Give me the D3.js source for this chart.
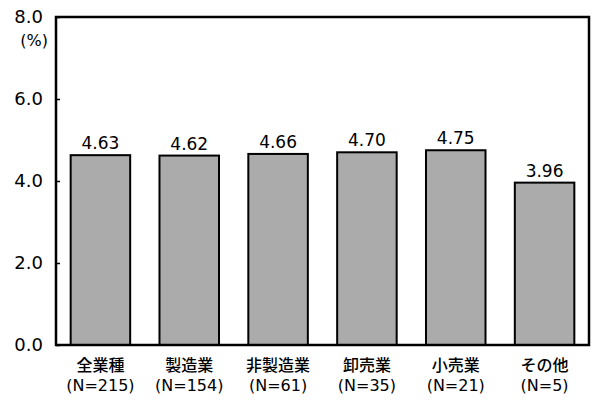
<!DOCTYPE html>
<html><head><meta charset="utf-8">
<script src="https://cdn.jsdelivr.net/npm/d3@7"></script>
<style>body{margin:0;background:#fff}</style>
</head><body>
<svg id="c" width="600" height="410"></svg>
<script>
const categories = ["全業種","製造業","非製造業","卸売業","小売業","その他"];
const counts = ["(N=215)","(N=154)","(N=61)","(N=35)","(N=21)","(N=5)"];
const values = [4.63,4.62,4.66,4.70,4.75,3.96];
const yTicks = [0,2,4,6,8];

const svg = d3.select("#c");
const m = {l:56, r:11, t:17, b:65};
const W = 600, H = 410;
const x = d3.scaleBand().domain(categories).range([m.l, W-m.r]).paddingInner(0.33).paddingOuter(0.165);
const y = d3.scaleLinear().domain([0,8]).range([H-m.b, m.t]);
const font = "DejaVu Sans, Verdana, sans-serif";

// bars
svg.selectAll("rect.bar").data(values).join("rect")
  .attr("x",(d,i)=>x(categories[i])).attr("width",x.bandwidth())
  .attr("y",d=>y(d)).attr("height",d=>y(0)-y(d))
  .attr("fill","#aaabaa").attr("stroke","#000").attr("stroke-width",2);

// frame
svg.append("rect").attr("x",m.l).attr("y",m.t).attr("width",W-m.r-m.l).attr("height",H-m.b-m.t)
  .attr("fill","none").attr("stroke","#000").attr("stroke-width",2.5);

// y axis
const ya = d3.axisLeft(y).tickValues(yTicks).tickFormat(d3.format(".1f")).tickSize(-4).tickPadding(10);
const g = svg.append("g").attr("transform",`translate(${m.l},0)`).call(ya);
g.select(".domain").remove();
g.selectAll("line").attr("stroke","#000").attr("stroke-width",1.5);
g.selectAll("text").attr("font-family",font).attr("font-size",18).attr("fill","#000").attr("x",-13);

svg.append("text").attr("x",48).attr("y",46).attr("text-anchor","end")
  .attr("font-family",font).attr("font-size",16).text("(%)");

// value labels
svg.selectAll("text.val").data(values).join("text")
  .attr("x",(d,i)=>x(categories[i])+x.bandwidth()/2).attr("y",d=>y(d)-6)
  .attr("text-anchor","middle").attr("font-family",font).attr("font-size",17).text(d=>d.toFixed(2));

// category labels
const cg = svg.selectAll("g.cat").data(categories).join("g")
  .attr("transform",d=>`translate(${x(d)+x.bandwidth()/2},0)`);
cg.append("text").attr("y",371).attr("text-anchor","middle")
  .attr("font-family","Noto Sans CJK JP, sans-serif").attr("font-weight",500).attr("font-size",16).text(d=>d);
cg.append("text").attr("y",391).attr("text-anchor","middle")
  .attr("font-family",font).attr("font-size",16).text((d,i)=>counts[i]);
</script>
</body></html>
